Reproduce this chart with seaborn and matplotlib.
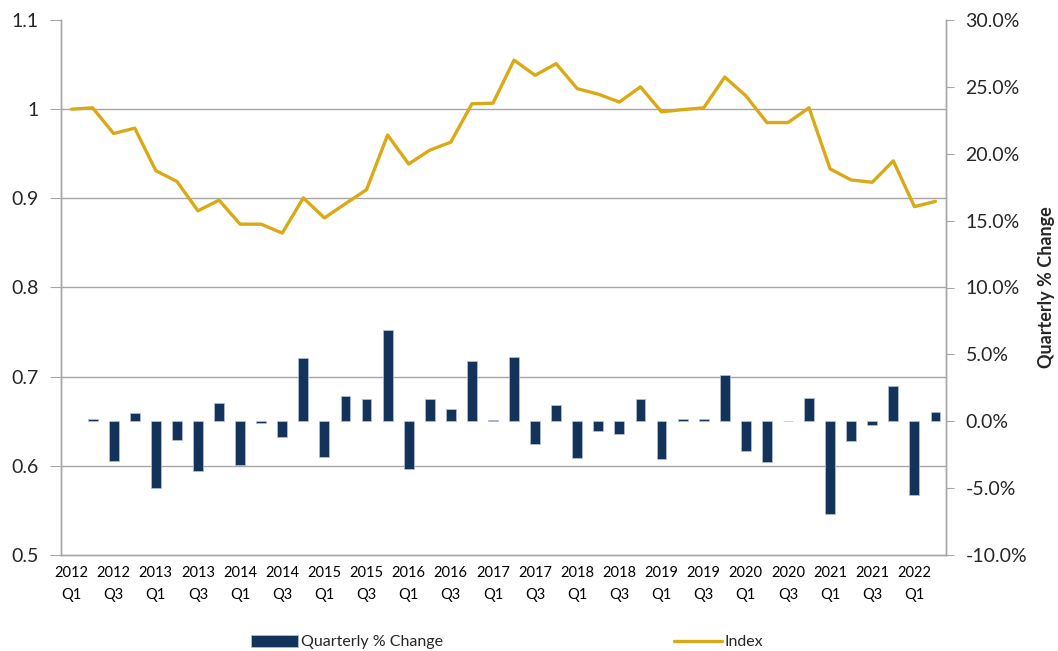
import numpy as np
import pandas as pd
import seaborn as sns
import matplotlib.pyplot as plt
from matplotlib.ticker import FixedLocator, FuncFormatter

##----------- Data --------------##
quarters = [f"{y}\nQ{q}" for y in range(2012, 2023) for q in range(1, 5)][:42]

index_values = [1.000, 1.0015, 0.9727, 0.9787, 0.931, 0.919, 0.886, 0.898, 0.871, 0.871,
                0.861, 0.9005, 0.878, 0.894, 0.9097, 0.971, 0.9385, 0.954, 0.963, 1.006,
                1.0067, 1.055, 1.038, 1.051, 1.023, 1.0168, 1.008, 1.025, 0.997, 0.9995,
                1.0015, 1.036, 1.015, 0.985, 0.985, 1.0015, 0.933, 0.9206, 0.918, 0.942,
                0.8907, 0.8966]

# quarterly % change (first quarter has no value)
pct_change = [np.nan, 0.17, -3.0, 0.65, -5.0, -1.4, -3.7, 1.4, -3.25, -0.15,
              -1.15, 4.7, -2.65, 1.9, 1.7, 6.8, -3.6, 1.65, 0.95, 4.5,
              0.1, 4.8, -1.7, 1.25, -2.75, -0.7, -0.95, 1.7, -2.8, 0.2,
              0.2, 3.45, -2.2, -3.05, 0.0, 1.75, -6.9, -1.47, -0.3, 2.6,
              -5.5, 0.72]

left_ticks = [0.5, 0.6, 0.7, 0.8, 0.9, 1.0, 1.1]
left_ticklabels = ["0.5", "0.6", "0.7", "0.8", "0.9", "1", "1.1"]
right_ticks = [-10, -5, 0, 5, 10, 15, 20, 25, 30]

navy = "#14335A"
gold = "#D9A916"
grey = "#A6A6A6"

df = pd.DataFrame({"pos": np.arange(len(quarters)), "Index": index_values,
                   "Change": pct_change})

##----------- Plot --------------##
sns.set_style("white")
plt.rcParams['font.family'] = ['Lato', 'DejaVu Sans']

fig = plt.figure(figsize=(10.58, 6.51), dpi=100)
ax1 = fig.add_axes([61/1058, 1-555/651, (946-61)/1058, (555-20)/651])
ax2 = ax1.twinx()

sns.barplot(data=df, x="pos", y="Change", native_scale=True, width=0.47,
            color=navy, edgecolor="#B8C4D4", linewidth=0.5, saturation=1,
            ax=ax2, label="Quarterly % Change", zorder=3)
sns.lineplot(data=df, x="pos", y="Index", color=gold, linewidth=2.4,
             ax=ax1, label="Index")

# x axis
ax1.set_xlim(-0.5, len(quarters) - 0.5)
ax1.xaxis.set_major_locator(FixedLocator(np.arange(0, len(quarters), 2)))
ax1.xaxis.set_major_formatter(FuncFormatter(lambda v, p: quarters[int(round(v))]))
ax1.xaxis.set_minor_locator(FixedLocator(np.arange(-0.5, len(quarters), 1)))
ax1.tick_params(axis="x", which="major", length=0, labelsize=10.5, pad=8, colors="black")
ax1.tick_params(axis="x", which="minor", length=5, width=0.8, color=grey, direction="out")
for lab in ax1.get_xticklabels():
    lab.set_linespacing(1.75)
ax1.set_xlabel("")

# left axis
ax1.set_ylim(0.5, 1.1)
ax1.set_yticks(left_ticks)
ax1.set_yticklabels(left_ticklabels)
ax1.tick_params(axis="y", length=8, width=0.8, color=grey, labelsize=14, pad=8, left=True)
ax1.set_ylabel("")
for v in left_ticks[1:-1]:
    ax1.axhline(v, color=grey, linewidth=1, zorder=0)

# right axis
ax2.set_ylim(-10, 30)
ax2.set_yticks(right_ticks)
ax2.yaxis.set_major_formatter(FuncFormatter(lambda v, p: f"{v:.1f}%"))
ax2.tick_params(axis="y", length=6, width=0.8, color=grey, labelsize=14, pad=8, right=True)
ax2.set_ylabel("Quarterly % Change", fontsize=13, fontweight="bold")
ax2.yaxis.set_label_coords((1038 - 61) / 885, 0.5)

for ax in (ax1, ax2):
    ax.spines["top"].set_visible(False)
    for s in ("left", "right", "bottom"):
        ax.spines[s].set_color(grey)
        ax.spines[s].set_linewidth(1)
    if ax.get_legend() is not None:
        ax.get_legend().remove()

h2, l2 = ax2.get_legend_handles_labels()
h1, l1 = ax1.get_legend_handles_labels()
fig.legend(h2 + h1, l2 + l1, loc="center", bbox_to_anchor=(507/1058, 1-642/651),
           ncol=2, frameon=False, fontsize=11.5, handlelength=3.0, handleheight=0.8,
           handletextpad=0.15, columnspacing=14.5)

plt.savefig("out.png", dpi=100)
plt.close()
